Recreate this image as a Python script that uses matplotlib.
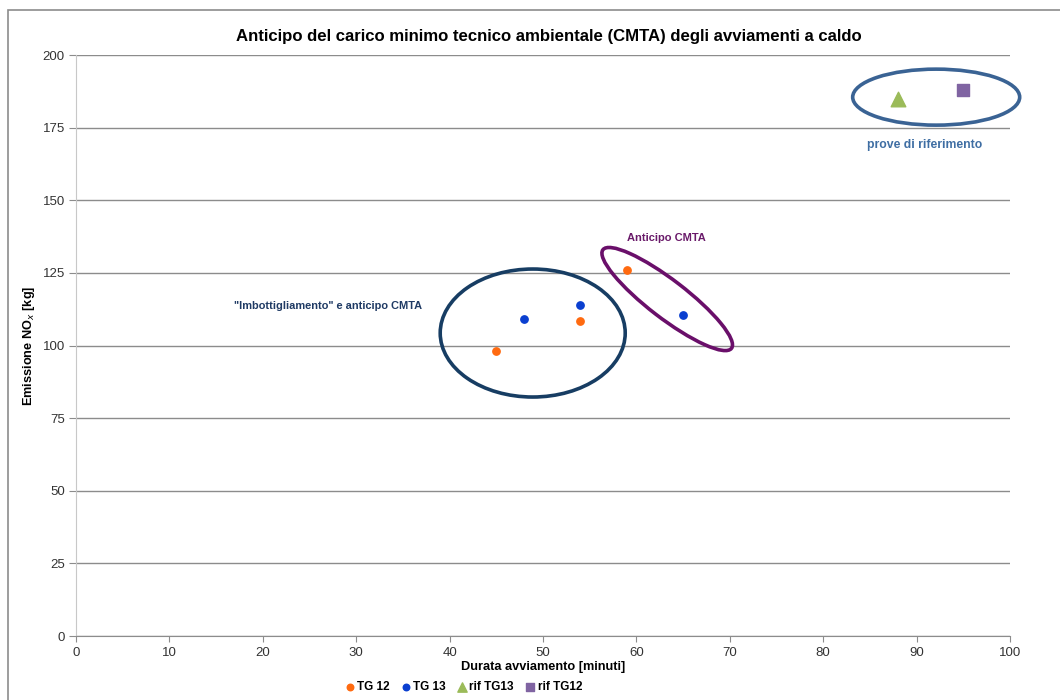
import matplotlib
matplotlib.use("Agg")
import matplotlib.pyplot as plt
from matplotlib.patches import Ellipse, Rectangle
from matplotlib.transforms import ScaledTranslation

plt.rcParams['font.family'] = ['Liberation Sans', 'DejaVu Sans']

# dati
tg12_x = [45, 54, 59]
tg12_y = [98, 108.5, 126]
tg13_x = [48, 54, 65]
tg13_y = [109, 114, 110.5]
rif13_x = [88]
rif13_y = [185]
rif12_x = [95]
rif12_y = [188]

yticks = [0, 25, 50, 75, 100, 125, 150, 175, 200]
xticks = [0, 10, 20, 30, 40, 50, 60, 70, 80, 90, 100]

fig = plt.figure(figsize=(10.6, 7), dpi=100)
ax = fig.add_axes([0.0717, 0.0914, 0.8811, 0.83])

# cornice esterna
fig.patches.append(Rectangle((8 / 1060, -0.1), 1.2, 1 - 10 / 700 + 0.1,
                             transform=fig.transFigure, fill=False,
                             edgecolor='#8c8c8c', linewidth=1.2))

ax.set_xlim(0, 100)
ax.set_ylim(0, 200)
ax.set_xticks(xticks)
ax.set_yticks(yticks)
ax.grid(axis='y', color='#8c8c8c', linewidth=1)
ax.set_axisbelow(True)
for s in ['top', 'right']:
    ax.spines[s].set_visible(False)
ax.spines['left'].set_color('#c8c8c8')
ax.spines['bottom'].set_color('#8c8c8c')
ax.tick_params(axis='y', length=5, color='#8c8c8c', labelsize=9.5, pad=3, labelcolor='#333333')
ax.tick_params(axis='x', length=4, color='#8c8c8c', labelsize=9.5, pad=4, labelcolor='#333333')

ax.scatter(tg12_x, tg12_y, s=28, color='#ff6a10', label='TG 12', zorder=3)
ax.scatter(tg13_x, tg13_y, s=28, color='#0a3fd0', label='TG 13', zorder=3)
ax.scatter(rif13_x, rif13_y, s=110, marker='^', color='#9bbb59', label='rif TG13', zorder=3)
ax.scatter(rif12_x, rif12_y, s=75, marker='s', color='#8064a2', label='rif TG12', zorder=3)


def ellisse(cx, cy, w_px, h_px, ang, col):
    tr = fig.dpi_scale_trans + ScaledTranslation(cx, cy, ax.transData)
    e = Ellipse((0, 0), w_px / 100, h_px / 100, angle=ang, transform=tr,
                fill=False, edgecolor=col, linewidth=2.6, zorder=4, clip_on=False)
    ax.add_patch(e)


ellisse(48.9, 104.3, 185, 128, 0, '#173d63')
ellisse(63.3, 116.0, 162, 38, -37.5, '#6a0f6a')
ellisse(92.1, 185.5, 167, 56, 0, '#3a6394')

ax.text(925 / 1060, 1 - 145 / 700, 'prove di riferimento', transform=fig.transFigure,
        ha='center', va='center', fontsize=8.8, fontweight='bold', color='#3f6ea3')
ax.text(666 / 1060, 1 - 238 / 700, 'Anticipo CMTA', transform=fig.transFigure,
        ha='center', va='center', fontsize=8, fontweight='bold', color='#6a1a6a')
ax.text(328 / 1060, 1 - 306 / 700, '"Imbottigliamento" e anticipo CMTA',
        transform=fig.transFigure, ha='center', va='center', fontsize=7.9,
        fontweight='bold', color='#1f3a64')

fig.text(549 / 1060, 1 - 36 / 700,
         'Anticipo del carico minimo tecnico ambientale (CMTA) degli avviamenti a caldo',
         ha='center', va='center', fontsize=12.1, fontweight='bold')
ax.set_xlabel('Durata avviamento [minuti]', fontsize=9.2, fontweight='bold', labelpad=1)
ax.set_ylabel('Emissione NO$_x$ [kg]', fontsize=9.2, fontweight='bold')
ax.yaxis.set_label_coords(-0.042, 0.5)

leg = fig.legend(loc='center', bbox_to_anchor=(463 / 1060, 13 / 700), ncol=4, frameon=False,
                 handletextpad=0.1, columnspacing=0.9, handlelength=1.0,
                 prop={'weight': 'bold', 'size': 8.5})
for h, sz in zip(leg.legend_handles, [22, 22, 45, 40]):
    h.set_sizes([sz])

fig.savefig('out.png', dpi=100)
